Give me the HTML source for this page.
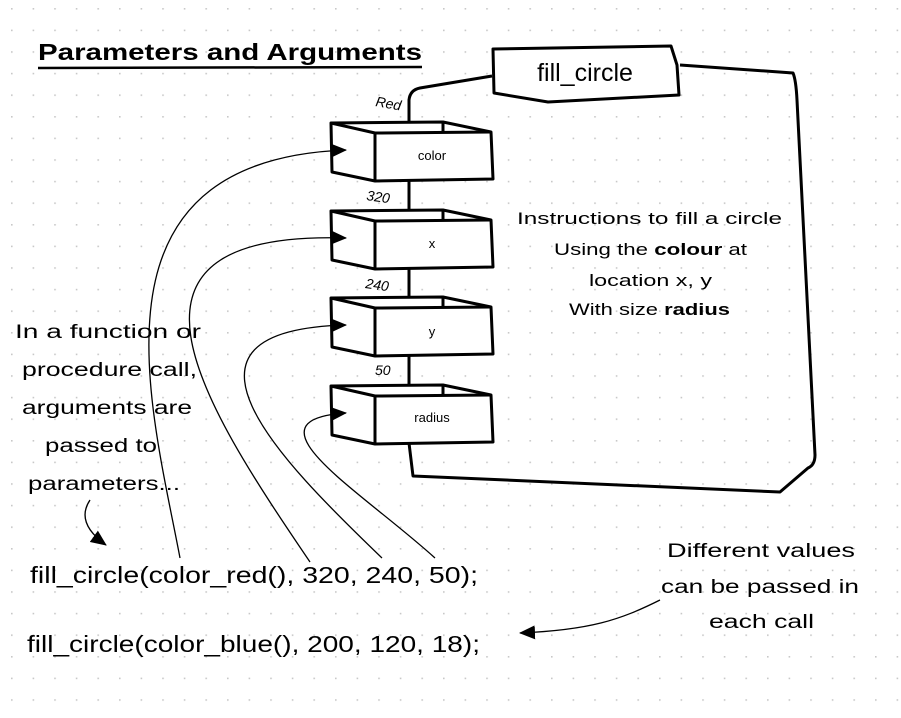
<!DOCTYPE html>
<html><head><meta charset="utf-8"><style>
html,body{margin:0;padding:0;background:#fff;}
svg{display:block;}
text{font-family:"Liberation Sans",sans-serif;fill:#000;}
</style></head><body>
<svg width="901" height="718" viewBox="0 0 901 718" xmlns="http://www.w3.org/2000/svg">
<defs>
<pattern id="dots" x="11" y="8" width="21.6" height="21.6" patternUnits="userSpaceOnUse">
<rect x="0" y="0" width="1.6" height="1.6" fill="#c8c8c8"/>
</pattern>
<marker id="ahb" markerWidth="16" markerHeight="14" refX="15" refY="7" orient="auto" markerUnits="userSpaceOnUse">
<path d="M0,0 L16,7 L0,14 Z" fill="#000"/>
</marker>
</defs>
<rect width="901" height="718" fill="url(#dots)"/>

<text x="38" y="60" font-size="23" font-weight="bold" textLength="384" lengthAdjust="spacingAndGlyphs">Parameters and Arguments</text>
<line x1="38" y1="68" x2="422" y2="67" stroke="#000" stroke-width="2.5"/>

<path d="M409,122 L409,100 Q410,90 420,88 L492,76 M680,65 L793,73 Q796,80 797,100 L815,455 Q815,465 808,468 L780,492 L413,476 L409,443" fill="none" stroke="#000" stroke-width="3" stroke-linejoin="round"/>
<line x1="409" y1="180" x2="409" y2="210" stroke="#000" stroke-width="3"/>
<line x1="409" y1="268" x2="409" y2="297" stroke="#000" stroke-width="3"/>
<line x1="409" y1="355" x2="409" y2="385" stroke="#000" stroke-width="3"/>

<path d="M493,49 L671,46 L677,65 L679,95 L548,102 L494,93 Z" fill="#fff" stroke="#000" stroke-width="3" stroke-linejoin="round"/>
<text x="585" y="81" font-size="25" text-anchor="middle">fill_circle</text>

<g stroke="#000" stroke-width="3" fill="#fff" stroke-linejoin="round">
<g>
<path d="M331,123 L443,122 L491,132 L493,179 L375,181 L332,172 Z"/>
<path d="M331,123 L375,133 L491,132 M375,133 L375,181 M443,122 L443,132" fill="none"/>
</g>
<g transform="translate(0,88)">
<path d="M331,123 L443,122 L491,132 L493,179 L375,181 L332,172 Z"/>
<path d="M331,123 L375,133 L491,132 M375,133 L375,181 M443,122 L443,132" fill="none"/>
</g>
<g transform="translate(0,175)">
<path d="M331,123 L443,122 L491,132 L493,179 L375,181 L332,172 Z"/>
<path d="M331,123 L375,133 L491,132 M375,133 L375,181 M443,122 L443,132" fill="none"/>
</g>
<g transform="translate(0,263)">
<path d="M331,123 L443,122 L491,132 L493,179 L375,181 L332,172 Z"/>
<path d="M331,123 L375,133 L491,132 M375,133 L375,181 M443,122 L443,132" fill="none"/>
</g>
</g>
<text x="432" y="160" font-size="13" text-anchor="middle">color</text>
<text x="432" y="248" font-size="13" text-anchor="middle">x</text>
<text x="432" y="336" font-size="13" text-anchor="middle">y</text>
<text x="432" y="422" font-size="13" text-anchor="middle">radius</text>

<text x="375" y="106" font-size="14" font-style="italic" transform="rotate(10 375 106)">Red</text>
<text x="366" y="200" font-size="14" font-style="italic" transform="rotate(8 366 200)">320</text>
<text x="365" y="288" font-size="14" font-style="italic" transform="rotate(8 365 288)">240</text>
<text x="375" y="375" font-size="14" font-style="italic">50</text>

<g font-size="17">
<text x="517" y="224" textLength="265" lengthAdjust="spacingAndGlyphs">Instructions to fill a circle</text>
<text x="554" y="255" textLength="193" lengthAdjust="spacingAndGlyphs">Using the <tspan font-weight="bold">colour</tspan> at</text>
<text x="589" y="286" textLength="123" lengthAdjust="spacingAndGlyphs">location x, y</text>
<text x="569" y="315" textLength="161" lengthAdjust="spacingAndGlyphs">With size <tspan font-weight="bold">radius</tspan></text>
</g>

<g fill="none" stroke="#000" stroke-width="1.3">
<path d="M180,558 C150,400 80,160 346,150" marker-end="url(#ahb)"/>
<path d="M310,562 C200,400 90,230 346,238" marker-end="url(#ahb)"/>
<path d="M382,558 C280,460 150,330 346,325" marker-end="url(#ahb)"/>
<path d="M435,558 C360,490 240,420 346,413" marker-end="url(#ahb)"/>
<path d="M90,500 C80,515 85,530 106,545" marker-end="url(#ahb)"/>
<path d="M660,600 C620,620 590,630 520,633" marker-end="url(#ahb)"/>
</g>

<g font-size="19">
<text x="15" y="338" textLength="186" lengthAdjust="spacingAndGlyphs">In a function or</text>
<text x="22" y="376" textLength="175" lengthAdjust="spacingAndGlyphs">procedure call,</text>
<text x="22" y="414" textLength="170" lengthAdjust="spacingAndGlyphs">arguments are</text>
<text x="45" y="452" textLength="112" lengthAdjust="spacingAndGlyphs">passed to</text>
<text x="28" y="490" textLength="152" lengthAdjust="spacingAndGlyphs">parameters...</text>
</g>

<g font-size="19">
<text x="667" y="557" textLength="188" lengthAdjust="spacingAndGlyphs">Different values</text>
<text x="661" y="593" textLength="198" lengthAdjust="spacingAndGlyphs">can be passed in</text>
<text x="709" y="628" textLength="105" lengthAdjust="spacingAndGlyphs">each call</text>
</g>

<text x="30" y="583" font-size="23" textLength="448" lengthAdjust="spacingAndGlyphs">fill_circle(color_red(), 320, 240, 50);</text>
<text x="27" y="652" font-size="23" textLength="453" lengthAdjust="spacingAndGlyphs">fill_circle(color_blue(), 200, 120, 18);</text>
</svg>
</body></html>
